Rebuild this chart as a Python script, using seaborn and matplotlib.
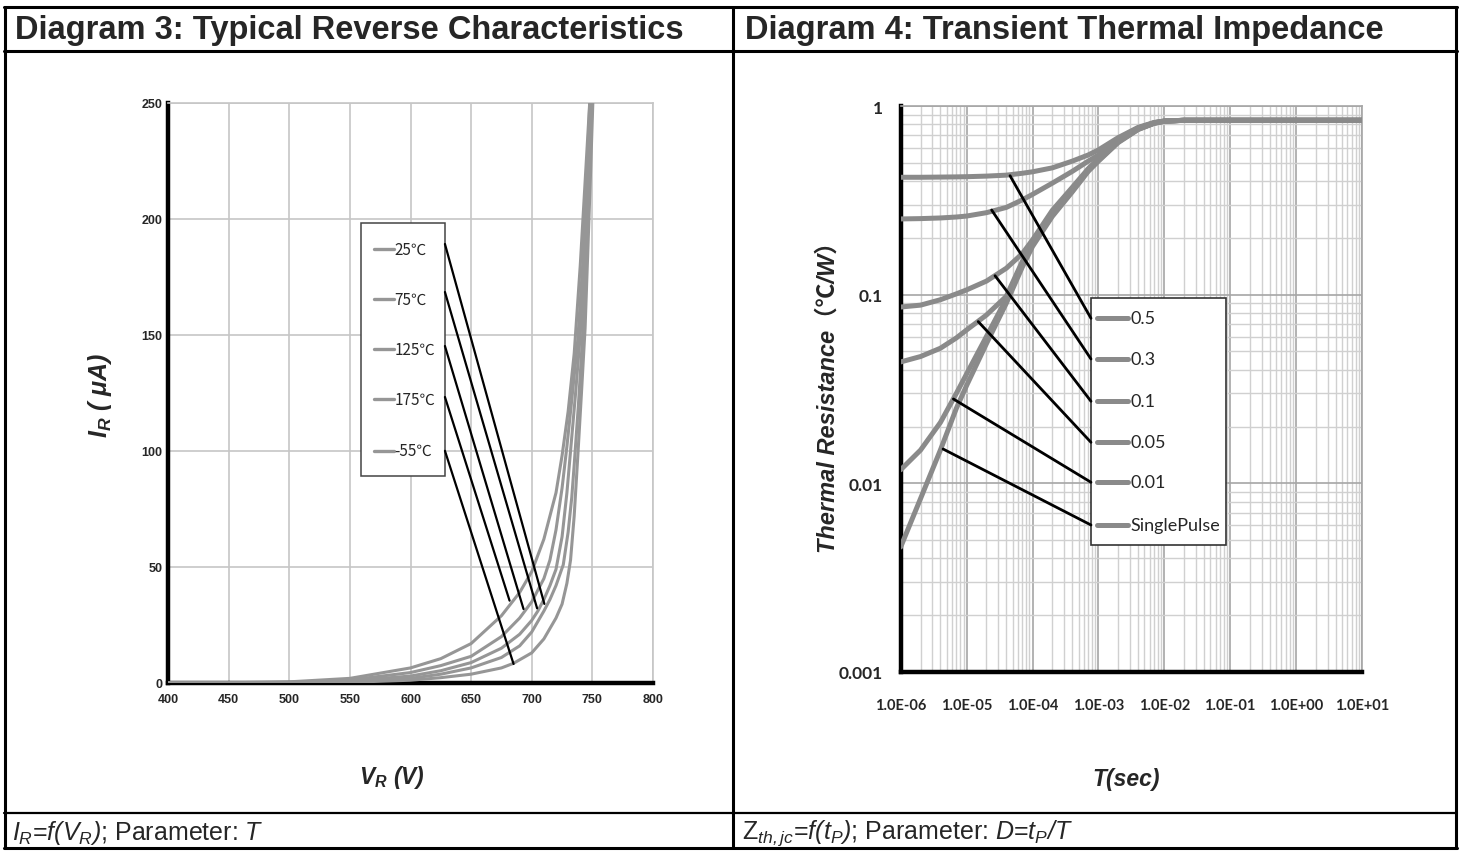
import numpy as np
import pandas as pd
import matplotlib
matplotlib.use('Agg')
import matplotlib.pyplot as plt
import seaborn as sns
from matplotlib import font_manager
from matplotlib.lines import Line2D
from matplotlib.patches import Rectangle
from matplotlib.ticker import LogLocator, NullFormatter

# ---- Diagram 3 data: reverse current vs reverse voltage ----
rev_labels = ['25℃', '75℃', '125℃', '175℃', '-55℃']

vr_25 = [400, 450, 500, 550, 600, 625, 650, 675, 690, 700, 710, 715, 720, 726, 730, 733, 735, 738.5, 742, 745, 747.5, 750]
ir_25 = [0, 0.02, 0.1, 0.6, 2, 3.8, 6.5, 11, 16, 22, 31, 36, 42, 51, 65, 80, 94, 120, 150, 185, 220, 252]

vr_75 = [400, 450, 500, 550, 600, 625, 650, 675, 690, 700, 705, 710, 715, 720, 725, 729, 732, 736, 740, 743, 746, 749]
ir_75 = [0, 0.03, 0.2, 0.9, 3, 5.3, 8.8, 15, 21, 27, 31, 36, 42, 49, 63, 82, 100, 124, 150, 180, 215, 252]

vr_125 = [400, 450, 500, 550, 600, 625, 650, 675, 690, 700, 710, 715, 720, 725, 729, 733, 738, 742, 745, 748]
ir_125 = [0, 0.05, 0.3, 1.3, 4.5, 7.5, 11.5, 20, 28, 35, 45, 53, 66, 84, 102, 122, 148, 180, 213, 252]

vr_175 = [400, 450, 500, 550, 600, 625, 650, 675, 690, 700, 710, 720, 725, 730, 735, 740, 745, 748]
ir_175 = [0, 0.1, 0.5, 2, 6.5, 10.5, 17, 29, 39, 48, 62, 82, 98, 117, 142, 180, 225, 252]

vr_m55 = [400, 450, 500, 550, 600, 625, 650, 675, 685, 700, 710, 720, 725, 729, 732, 735, 738, 741, 744, 746.5, 748.5, 750.5]
ir_m55 = [0, 0, 0.05, 0.3, 1.2, 2.3, 3.8, 6.5, 8.5, 13, 19, 28, 34, 43, 53, 72, 98, 125, 153, 190, 220, 252]

vr_ticks = [400, 450, 500, 550, 600, 650, 700, 750, 800]
ir_ticks = [0, 50, 100, 150, 200, 250]

# leader lines: legend side (axes fraction y) -> point on curve (data)
rev_leader_y = [0.7569, 0.6741, 0.5810, 0.4931, 0.4003]
rev_leader_v = [710.4, 704.4, 693.2, 681.7, 685.0]
rev_leader_i = [34.1, 32.2, 31.9, 35.5, 8.2]

# ---- Diagram 4 data: transient thermal impedance ----
duty_labels = ['0.5', '0.3', '0.1', '0.05', '0.01', 'SinglePulse']
t_sec = [1e-6, 2e-6, 4e-6, 7e-6, 1e-5, 2e-5, 4e-5, 7e-5, 1e-4, 2e-4, 4e-4, 7e-4,
         1e-3, 2e-3, 4e-3, 7e-3, 1e-2, 2e-2, 1e1]
z_05 = [0.419, 0.419, 0.420, 0.421, 0.422, 0.425, 0.430, 0.440, 0.448, 0.470, 0.510, 0.550,
        0.585, 0.680, 0.770, 0.818, 0.833, 0.840, 0.840]
z_03 = [0.252, 0.253, 0.255, 0.258, 0.261, 0.272, 0.290, 0.318, 0.340, 0.390, 0.450, 0.510,
        0.550, 0.665, 0.765, 0.815, 0.832, 0.840, 0.840]
z_01 = [0.086, 0.088, 0.094, 0.101, 0.106, 0.118, 0.138, 0.165, 0.195, 0.280, 0.370, 0.465,
        0.525, 0.655, 0.760, 0.815, 0.832, 0.840, 0.840]
z_005 = [0.044, 0.047, 0.052, 0.059, 0.065, 0.078, 0.098, 0.150, 0.190, 0.270, 0.360, 0.460,
         0.520, 0.650, 0.755, 0.810, 0.830, 0.840, 0.840]
z_001 = [0.0118, 0.0150, 0.021, 0.030, 0.038, 0.060, 0.095, 0.145, 0.185, 0.265, 0.355, 0.455,
         0.515, 0.645, 0.752, 0.810, 0.830, 0.840, 0.840]
z_sp = [0.0046, 0.0083, 0.0150, 0.025, 0.033, 0.055, 0.090, 0.140, 0.180, 0.260, 0.350, 0.450,
        0.510, 0.640, 0.750, 0.810, 0.830, 0.840, 0.840]

t_ticks = [1e-6, 1e-5, 1e-4, 1e-3, 1e-2, 1e-1, 1e0, 1e1]
t_ticklabels = ['1.0E-06', '1.0E-05', '1.0E-04', '1.0E-03', '1.0E-02', '1.0E-01', '1.0E+00', '1.0E+01']
z_ticks = [0.001, 0.01, 0.1, 1]
z_ticklabels = ['0.001', '0.01', '0.1', '1']

# leader lines: point on curve (data) -> legend side (axes fraction y)
zth_leader_t = [4.56e-5, 2.4e-5, 2.7e-5, 1.5e-5, 6.3e-6, 4.4e-6]
zth_leader_z = [0.427, 0.281, 0.126, 0.072, 0.028, 0.0152]
zth_legend_y = [0.6249, 0.5530, 0.4783, 0.4058, 0.3352, 0.2597]

# ---- style ----
sns.set_style('white')
plt.rcParams['font.family'] = ['Liberation Sans', 'Noto Sans CJK SC', 'DejaVu Sans']
plt.rcParams['mathtext.fontset'] = 'custom'
plt.rcParams['mathtext.rm'] = 'Liberation Sans:italic'
plt.rcParams['mathtext.it'] = 'Liberation Sans:italic'
plt.rcParams['mathtext.bf'] = 'Liberation Sans:bold:italic'
plt.rcParams['mathtext.sf'] = 'Liberation Sans'

names = {f.name for f in font_manager.fontManager.ttflist}
narrow = 'Liberation Sans Narrow' if 'Liberation Sans Narrow' in names else 'Liberation Sans'

GRAY_REV = '#969696'
GRAY_ZTH = '#8a8a8a'
GRID = '#c6c6c6'

W, H = 1461, 854
fig = plt.figure(figsize=(W / 100, H / 100), dpi=100)


def box(x0, y0, x1, y1):
    return [x0 / W, 1 - y1 / H, (x1 - x0) / W, (y1 - y0) / H]


def fline(x0, y0, x1, y1, lw=2.2):
    fig.add_artist(Line2D([x0 / W, x1 / W], [1 - y0 / H, 1 - y1 / H],
                          transform=fig.transFigure, color='black', lw=lw))


# table frame
fline(4, 8, 1457, 8)
fline(4, 849, 1457, 849)
fline(5, 8, 5, 849)
fline(1456, 8, 1456, 849)
fline(4, 52, 1457, 52)
fline(4, 814, 1457, 814, lw=1.6)
fline(733, 8, 733, 849)

fig.text(15 / W, 1 - 30 / H, 'Diagram 3: Typical Reverse Characteristics',
         fontsize=23.5, fontweight='bold', va='center', ha='left')
fig.text(745 / W, 1 - 30 / H, 'Diagram 4: Transient Thermal Impedance',
         fontsize=23.5, fontweight='bold', va='center', ha='left')

# ---- left chart ----
ax1 = fig.add_axes(box(168, 104, 653, 684))
rev_df = pd.concat([
    pd.DataFrame({'VR': v, 'IR': i, 'T': lab})
    for v, i, lab in zip([vr_25, vr_75, vr_125, vr_175, vr_m55],
                         [ir_25, ir_75, ir_125, ir_175, ir_m55], rev_labels)
])
sns.lineplot(data=rev_df, x='VR', y='IR', hue='T', palette=[GRAY_REV] * 5,
             linewidth=2.2, legend=False, estimator=None, ax=ax1, zorder=3)
ax1.set_xlim(400, 800)
ax1.set_ylim(0, 250)
ax1.set_xticks(vr_ticks)
ax1.set_yticks(ir_ticks)
ax1.set_xlabel('')
ax1.set_ylabel('')
ax1.grid(True, color=GRID, lw=1.2)
ax1.set_axisbelow(True)
for s in ['left', 'bottom']:
    ax1.spines[s].set_color('black')
    ax1.spines[s].set_linewidth(3.2)
for s in ['top', 'right']:
    ax1.spines[s].set_color(GRID)
    ax1.spines[s].set_linewidth(1.2)
ax1.tick_params(length=0, labelsize=9)
ax1.tick_params(axis='x', pad=7)
ax1.tick_params(axis='y', pad=4)
for lab in ax1.get_xticklabels() + ax1.get_yticklabels():
    lab.set_fontfamily(narrow)
    lab.set_fontweight('bold')

# legend box (left)
ax1.add_patch(Rectangle((0.398, 0.3569), 0.173, 0.4362, transform=ax1.transAxes,
                        facecolor='white', edgecolor='#444444', lw=1.1, zorder=5))
leg1_y = [0.7483, 0.6621, 0.5759, 0.4897, 0.4005]
for y, lab in zip(leg1_y, rev_labels):
    ax1.plot([0.4247, 0.466], [y, y], transform=ax1.transAxes, color=GRAY_REV, lw=2.4, zorder=6)
    ax1.text(0.467, y, lab, transform=ax1.transAxes, va='center', ha='left',
             fontsize=11, family=['Noto Sans CJK SC', 'DejaVu Sans'], zorder=6)
for y, v, i in zip(rev_leader_y, rev_leader_v, rev_leader_i):
    ax1.annotate('', xy=(v, i), xycoords='data', xytext=(0.571, y), textcoords='axes fraction',
                 arrowprops=dict(arrowstyle='-', color='black', lw=1.6, shrinkA=0, shrinkB=0),
                 zorder=7)

fig.text(100 / W, 1 - 395 / H, r'$\mathbf{I_R}$ ( μA)', rotation=90, fontsize=18,
         fontweight='bold', style='italic', ha='center', va='center')
fig.text(392 / W, 1 - 778 / H, r'$\mathbf{V_R}$ (V)', fontsize=16.5,
         fontweight='bold', style='italic', ha='center', va='center')

# ---- right chart ----
ax2 = fig.add_axes(box(900.7, 107, 1362, 673))
zth_df = pd.concat([
    pd.DataFrame({'t': t_sec, 'Z': z, 'D': lab})
    for z, lab in zip([z_05, z_03, z_01, z_005, z_001, z_sp], duty_labels)
])
sns.lineplot(data=zth_df, x='t', y='Z', hue='D', palette=[GRAY_ZTH] * 6,
             linewidth=3.6, legend=False, estimator=None, ax=ax2, zorder=3)
ax2.set_xscale('log')
ax2.set_yscale('log')
ax2.set_xlim(1e-6, 10)
ax2.set_ylim(1e-3, 1)
ax2.set_xticks(t_ticks)
ax2.set_xticklabels(t_ticklabels)
ax2.set_yticks(z_ticks)
ax2.set_yticklabels(z_ticklabels)
ax2.xaxis.set_minor_locator(LogLocator(base=10, subs=np.arange(2, 10), numticks=30))
ax2.yaxis.set_minor_locator(LogLocator(base=10, subs=np.arange(2, 10), numticks=30))
ax2.xaxis.set_minor_formatter(NullFormatter())
ax2.yaxis.set_minor_formatter(NullFormatter())
ax2.set_xlabel('')
ax2.set_ylabel('')
ax2.grid(True, which='minor', color='#d0d0d0', lw=1.0)
ax2.grid(True, which='major', color='#a6a6a6', lw=1.2)
ax2.set_axisbelow(True)
for s in ['left', 'bottom']:
    ax2.spines[s].set_color('black')
    ax2.spines[s].set_linewidth(3.2)
for s in ['top', 'right']:
    ax2.spines[s].set_color('#a6a6a6')
    ax2.spines[s].set_linewidth(1.2)
ax2.tick_params(which='both', length=0)
ax2.tick_params(axis='x', pad=19, labelsize=10.5)
ax2.tick_params(axis='y', pad=13, labelsize=12.5)
for lab in ax2.get_xticklabels() + ax2.get_yticklabels():
    lab.set_fontfamily('Lato')
    lab.set_fontweight('bold')

# legend box (right)
ax2.add_patch(Rectangle((0.4125, 0.2249), 0.292, 0.4359, transform=ax2.transAxes,
                        facecolor='white', edgecolor='#333333', lw=1.2, zorder=5))
for y, lab in zip(zth_legend_y, duty_labels):
    ax2.plot([0.4249, 0.4934], [y, y], transform=ax2.transAxes, color=GRAY_ZTH, lw=3.6, zorder=6)
    ax2.text(0.4975, y, lab, transform=ax2.transAxes, va='center', ha='left',
             fontsize=13, family='Lato', zorder=6)
for t, z, y in zip(zth_leader_t, zth_leader_z, zth_legend_y):
    ax2.annotate('', xy=(0.4125, y), xycoords='axes fraction', xytext=(t, z), textcoords='data',
                 arrowprops=dict(arrowstyle='-', color='black', lw=2.0, shrinkA=0, shrinkB=0),
                 zorder=7)

fig.text(828 / W, 1 - 392 / H, 'Thermal Resistance（℃/W）', rotation=90, fontsize=17,
         fontweight='bold', style='italic', ha='center', va='center',
         family=['Liberation Sans', 'Noto Sans CJK SC'])
fig.text(1126 / W, 1 - 780 / H, 'T(sec)', fontsize=16.5,
         fontweight='bold', style='italic', ha='center', va='center')

# ---- bottom row ----
fig.text(12 / W, 1 - 833 / H, r'$I_R$=$f(V_R)$; Parameter: $T$', fontsize=18,
         ha='left', va='center')
fig.text(742 / W, 1 - 833 / H, r'$\mathsf{Z}_{th,jc}$=$f(t_P)$; Parameter: $D$=$t_P/T$',
         fontsize=18, ha='left', va='center')

fig.savefig('out.png', dpi=100)
